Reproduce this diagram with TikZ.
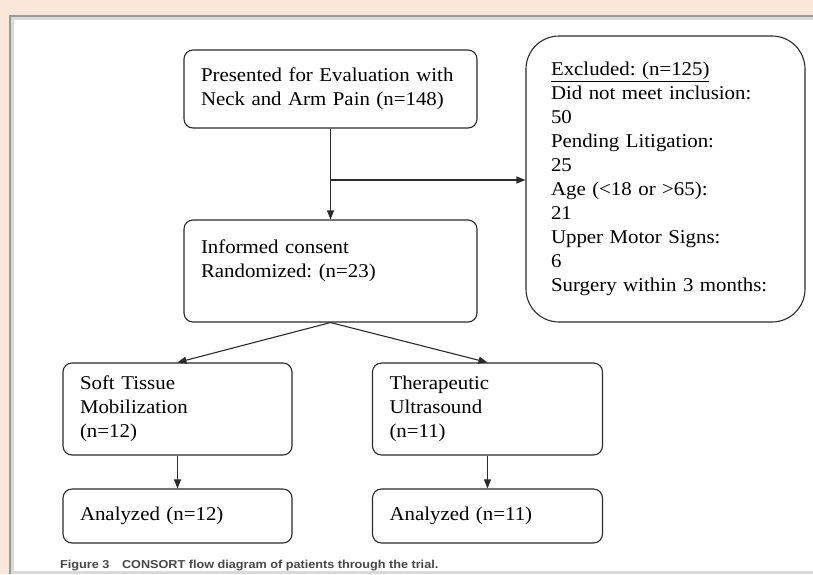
\documentclass[tikz,border=0pt]{standalone}
\usepackage{fontspec}
\setmainfont[FakeStretch=1.07]{Liberation Serif}
\newfontfamily\capfont[FakeStretch=1.1]{Liberation Sans}
\usetikzlibrary{arrows.meta,calc,positioning}
\definecolor{frame}{HTML}{FBE6DA}
\definecolor{line}{HTML}{2B2B2B}
\frenchspacing

\begin{document}
\begin{tikzpicture}[x=1pt,y=-1pt,
  box/.style={draw=line,line width=1.1pt,rounded corners=9pt,fill=white,align=left,inner xsep=17pt,inner ysep=0pt,font=\fontsize{19.5}{24}\selectfont},
  arr/.style={-{Triangle[length=9pt,width=7pt]},line width=1.1pt,line}]
  \useasboundingbox (0,0) rectangle (813,574);
  \fill[frame] (0,0) rectangle (813,574);
  \fill[black!40] (9,15) rectangle (813,574);
  \fill[black!15] (11,17) rectangle (813,574);
  \fill[white] (14,20) rectangle (813,571);
  \node[box,text width=259pt,minimum height=78pt] (p) at (330.5,89) {Presented for Evaluation with\\Neck and Arm Pain (n=148)};
  \node[box,text width=259pt,minimum height=102pt] (i) at (330.5,271) {Informed consent\\Randomized: (n=23)\\ \mbox{}};
  \node[box,text width=229pt,minimum height=286pt,inner xsep=25pt,rounded corners=33pt] (x) at (665.5,179) {\underline{Excluded: (n=125)}\\Did not meet inclusion:\\50\\Pending Litigation:\\25\\Age (<18 or >65):\\21\\Upper Motor Signs:\\6\\Surgery within 3 months:};
  \node[box,text width=195pt,minimum height=92pt] (st) at (177.5,409) {Soft Tissue\\Mobilization\\(n=12)};
  \node[box,text width=196pt,minimum height=92pt] (tu) at (487.5,409) {Therapeutic\\Ultrasound\\(n=11)};
  \node[box,text width=195pt,minimum height=54pt] (al) at (177.5,516) {Analyzed (n=12)};
  \node[box,text width=196pt,minimum height=54pt] (ar) at (487.5,516) {Analyzed (n=11)};
  \node[anchor=base west,inner sep=0pt,text=black!72,font=\capfont\bfseries\fontsize{11.5}{13}\selectfont] (cap) at (60,568) {Figure 3\hspace{1.1em}CONSORT flow diagram of patients through the trial.};
  \coordinate (br) at (330.5,180);
  \draw[arr] (p)--(i); \draw[arr] (br)--(br-|x.west);
  \draw[arr] (i.south)--(st.north); \draw[arr] (i.south)--(tu.north);
  \draw[arr] (st)--(al); \draw[arr] (tu)--(ar);
\end{tikzpicture}
\end{document}
